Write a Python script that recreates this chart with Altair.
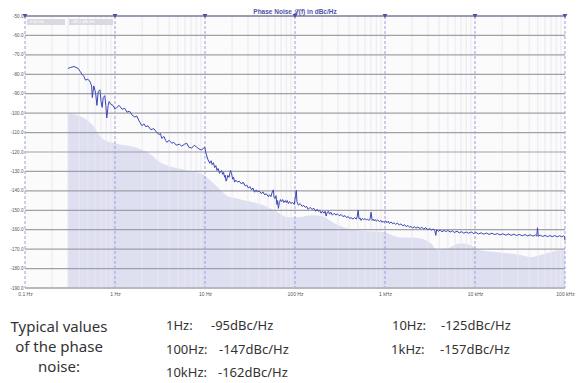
import altair as alt
import pandas as pd

# ---- data: (offset frequency Hz, phase noise dBc/Hz) ----
line_pts = [
    (0.30, -77), (0.32, -76.5), (0.35, -76), (0.37, -76.5), (0.39, -77), (0.41, -78.5), (0.43, -80),
    (0.45, -81), (0.47, -83), (0.50, -82.5), (0.53, -84), (0.55, -86), (0.56, -92), (0.58, -86),
    (0.59, -87), (0.61, -90), (0.63, -96), (0.65, -89), (0.68, -88), (0.70, -94), (0.72, -97),
    (0.74, -92), (0.77, -91), (0.79, -96), (0.81, -102.5), (0.84, -96), (0.86, -94), (0.90, -95.5),
    (0.95, -96), (1.0, -98), (1.05, -97), (1.11, -96), (1.2, -98), (1.28, -97.5), (1.36, -99.5),
    (1.45, -99), (1.55, -101), (1.66, -102), (1.75, -101.5), (1.85, -104), (1.99, -106.5),
    (2.1, -105.5), (2.2, -107), (2.32, -106.5), (2.5, -108.5), (2.7, -108), (2.92, -110),
    (3.1, -111), (3.2, -110.5), (3.31, -113), (3.5, -112), (3.65, -114), (3.76, -115), (4.0, -114),
    (4.28, -115.5), (4.5, -115), (4.8, -116.5), (5.2, -116), (5.52, -117), (5.9, -116), (6.27, -115.5),
    (6.6, -117.5), (7.12, -118), (7.6, -116.5), (8.09, -117.5), (8.6, -118.5), (9.19, -119),
    (9.6, -118), (9.92, -117.5),
    (10.3, -121), (10.8, -124), (11.3, -125.8), (11.7, -124.5), (12.0, -126.5), (12.4, -125.5),
    (12.8, -128), (13.2, -127), (13.6, -129.5), (14.0, -128.5), (14.5, -131), (14.9, -130),
    (15.3, -129.5), (15.7, -131.5), (16.1, -130.5), (16.5, -133), (16.8, -132), (17.1, -135),
    (17.4, -134.5), (17.9, -132), (18.5, -133), (19.0, -130.5), (19.2, -129.5), (19.7, -131),
    (20.3, -134), (20.8, -133), (21.3, -135.5), (22, -134.5), (23, -135.5), (24, -135),
    (25.5, -136.5), (26.5, -135.5), (28, -137.5), (29, -137), (30.4, -138.6), (31.5, -137.8),
    (33, -139.5), (34, -138.5), (35.5, -140.7), (37, -139.5), (38, -140.5), (40, -140),
    (42.4, -141.5), (44, -140.5), (46, -142), (48, -141.5), (50.7, -143), (52, -142), (54, -143),
    (55.5, -141), (57.5, -139.5), (58.5, -143.5), (60, -144), (61.5, -142.5), (63, -147), (64, -145),
    (65.4, -149), (67, -146), (69, -144.5), (70.6, -145.5), (73, -144.5), (75, -146), (78, -145),
    (80, -146), (82, -145), (84.4, -146.5), (87, -145.5), (90, -146.5), (94, -146), (98, -147),
    (101, -143), (103.5, -139.7), (105, -145.5), (109, -147.4),
    (114, -146.5), (120, -148), (125, -147.5), (130, -148.5), (135, -148), (140, -149.5),
    (147, -148.5), (155, -149.5), (162, -149), (170, -150.5), (176, -149.5), (181, -150.5),
    (188, -150), (195, -151.5), (202, -150.5), (210, -151.5), (216, -150.5), (222, -153),
    (228, -151), (235, -150.5), (242, -152), (250, -151), (260, -152.5), (273, -151.5),
    (285, -152.5), (295, -151.8), (310, -152.8), (326, -152.2), (340, -153.2), (360, -152.8),
    (375, -153.8), (390, -153.2), (405, -154.2), (420, -153.8), (440, -154.5), (460, -153.8),
    (480, -154.5), (490, -153.5), (503, -150), (515, -154.5), (530, -154), (542, -155.2),
    (560, -154.2), (580, -154.8), (600, -154.2), (620, -155), (640, -154.5), (660, -155.2),
    (680, -154.8), (700, -151), (720, -155.2), (740, -154.6), (755, -155.4), (780, -154.8),
    (800, -155.6), (830, -155), (870, -155.8), (900, -155.2), (930, -156.2), (950, -155.6),
    (975, -156.2),
    (1020, -155.4), (1050, -156.4), (1090, -155.6), (1120, -156.8), (1170, -156), (1220, -157),
    (1257, -156.4), (1310, -157.2), (1380, -156.6), (1440, -157.6), (1503, -157), (1580, -158),
    (1650, -157.4), (1720, -158.4), (1800, -157.8), (1880, -158.8), (1940, -158.2), (2030, -159.2),
    (2120, -158.4), (2200, -159.2), (2320, -158.6), (2450, -159.4), (2560, -158.8), (2700, -159.6),
    (2830, -159), (3000, -160), (3150, -159.4), (3300, -160.2), (3450, -159.6), (3580, -160.6),
    (3670, -162.9), (3750, -160), (3900, -160.8), (4100, -160.2), (4300, -161), (4550, -160.4),
    (4800, -161), (4990, -160.3), (5300, -161.2), (5600, -160.6), (5900, -161.4), (6300, -160.8),
    (6700, -161.6), (7100, -161), (7500, -161.8), (8000, -161.2), (8500, -161.8), (9100, -161.2),
    (9700, -162), (10180, -161.3), (10900, -162.2), (11700, -161.6), (12500, -162.3),
    (13400, -161.7), (14300, -162.4), (15400, -161.8), (16500, -162.5), (17800, -162),
    (19000, -162.7), (20400, -162.1), (22000, -162.8), (23500, -162.2), (25200, -162.9),
    (27000, -162.3), (29000, -163), (31000, -162.4), (33500, -163.1), (36000, -162.5),
    (38500, -163.2), (41000, -162.6), (44000, -163.3), (47000, -162.7), (48500, -163.3),
    (49500, -159), (50500, -163.4), (53000, -162.8), (56500, -163.5), (60000, -162.9),
    (64000, -163.6), (68000, -163), (72000, -163.6), (77000, -163), (82000, -163.7),
    (87000, -163.1), (92000, -163.7), (96000, -163.1), (98500, -163.5), (100000, -165.5),
]
line_freq = [p[0] for p in line_pts]
line_db = [p[1] for p in line_pts]

area_freq = [0.30, 0.43, 0.56, 0.72, 1.0, 1.66, 2.38, 3.31, 4.61, 7.12, 9.19, 10.4, 14.2, 18.3, 23.6,
             27.5, 35.5, 44.6, 59, 84.4, 109, 152, 196, 273, 352, 503, 975, 1503, 1940, 2505, 3230,
             3860, 4990, 6940, 8950, 11560, 17800, 32000, 41300, 63800, 88900, 100000]
area_db = [-100, -102, -106, -113, -115.5, -117.5, -120.6, -125.8, -128, -130, -131, -133, -138.6, -143, -144,
           -145, -146, -147.4, -150, -153.6, -153.6, -152.6, -153, -156.7, -158.8, -160.3, -161.3, -164, -164, -164.5, -167,
           -170.6, -169.6, -167, -168, -170.6, -171.6, -173, -174, -172, -170.6, -170.6]

y_ticks = [-190, -180, -170, -160, -150, -140, -130, -120, -110, -100, -90, -80, -70, -60, -50]
decades = [0.1, 1, 10, 100, 1000, 10000, 100000]
decade_labels = ["0.1 Hz", "1 Hz", "10 Hz", "100 Hz", "1 kHz", "10 kHz", "100 kHz"]
minor_lines = [d * m for d in decades[:-1] for m in range(2, 10)]

title_text = "Phase Noise \u2112(f) in dBc/Hz"
marker_texts = ["0.30 Hz", "-88.1 dBc/Hz"]

left_lines = ["Typical values", "of the phase", "noise:"]
spec_names = ["1Hz:", "100Hz:", "10kHz:", "10Hz:", "1kHz:"]
spec_values = ["-95dBc/Hz", "-147dBc/Hz", "-162dBc/Hz", "-125dBc/Hz", "-157dBc/Hz"]

# ---- layout ----
W, H = 540, 272
LEFT = 17
LINE_C = "#3b46b4"
AREA_C = "#dedff1"

xs = alt.Scale(type="log", domain=[0.1, 100000], nice=False)
ys = alt.Scale(domain=[-190, -50], nice=False, zero=False)

label_map = "{" + ",".join(f"'{v}':'{l}'" for v, l in zip(decades, decade_labels)) + "}"

X_AXIS = alt.Axis(values=decades, title=None, grid=False, ticks=False, domain=False,
                  labelExpr=f"{label_map}[datum.value + ''] || datum.label",
                  labelFontSize=5, labelColor="#555", labelFont="Liberation Sans",
                  labelPadding=3, labelFlush=False, labelOverlap=False)
Y_AXIS = alt.Axis(values=y_ticks, title=None, grid=False, ticks=False, domain=False,
                  labelExpr="replace(format(datum.value, '.1f'), '\u2212', '-')",
                  labelFontSize=4.6, labelColor="#555", labelFont="Liberation Sans",
                  labelPadding=2, labelOverlap=False, labelFlush=False)


def X(field="f"):
    return alt.X(f"{field}:Q", scale=xs, axis=X_AXIS)


def Y(field="db"):
    return alt.Y(f"{field}:Q", scale=ys, axis=Y_AXIS)


df_line = pd.DataFrame({"f": line_freq, "db": line_db})
df_area = pd.DataFrame({"f": area_freq, "db": area_db, "base": -190})
df_h = pd.DataFrame({"db": y_ticks})
df_minor = pd.DataFrame({"f": minor_lines})
df_dec = pd.DataFrame({"f": decades, "lab": decade_labels, "top": -50})
one = pd.DataFrame({"a": [0]})

bg = alt.Chart(one).mark_rect(color="#fbfbfc").encode(
    x=alt.value(0), x2=alt.value(W), y=alt.value(0), y2=alt.value(H))

area = alt.Chart(df_area).mark_area(color=AREA_C, opacity=1, interpolate="monotone").encode(
    x=X(), y=Y(), y2="base:Q")

minor = alt.Chart(df_minor).mark_rule(color="#e9e9ef", strokeWidth=1).encode(x=X())
hgrid = alt.Chart(df_h).mark_rule(color="#a0a0a8", strokeWidth=1.2).encode(y=Y())
dec = alt.Chart(df_dec).mark_rule(color="#9c9fda", strokeWidth=1, strokeDash=[3, 2]).encode(x=X())

top_line = alt.Chart(one).mark_rule(color="#6b6d8c", strokeWidth=1.2).encode(
    x=alt.value(0), x2=alt.value(W), y=alt.value(0))
bottom_line = alt.Chart(one).mark_rule(color="#b8b8bd", strokeWidth=2).encode(
    x=alt.value(0), x2=alt.value(W), y=alt.value(H))

line = alt.Chart(df_line).mark_line(color=LINE_C, strokeWidth=1).encode(x=X(), y=Y())

tri = alt.Chart(df_dec).mark_point(shape="triangle-down", filled=True, color="#4a52b0",
                                   size=24, opacity=1).encode(x=X(), y=Y("top"))

layers = [bg, area, minor, hgrid, dec, bottom_line, line, top_line, tri]

# marker readout boxes (top-left)
for t, x0, x1 in zip(marker_texts, [2, 44], [40, 88]):
    layers.append(alt.Chart(one).mark_rect(color="#d9d9df").encode(
        x=alt.value(x0), x2=alt.value(x1), y=alt.value(3), y2=alt.value(9)))
    layers.append(alt.Chart(one).mark_text(color="white", fontSize=4, align="left", baseline="middle",
                                           font="Liberation Sans", text=t).encode(
        x=alt.value(x0 + 3), y=alt.value(6)))

# title
layers.append(alt.Chart(one).mark_text(
    color="#4b53a8", fontSize=6.5, fontWeight="bold", font="Liberation Sans",
    align="center", baseline="middle", text=title_text).encode(
    x=alt.value(270), y=alt.value(-4)))

# footer text
for t, yy in zip(left_lines, [311, 331, 351]):
    layers.append(alt.Chart(one).mark_text(color="#333333", fontSize=15, font="Noto Sans",
                                           align="center", baseline="middle", text=t).encode(
        x=alt.value(34), y=alt.value(yy)))

for n, v, xn, xv, yy in zip(spec_names, spec_values,
                            [141, 141, 141, 367, 366], [186, 194, 193, 416, 415],
                            [310, 334, 357, 310, 334]):
    layers.append(alt.Chart(one).mark_text(color="#333333", fontSize=13, font="Noto Sans",
                                           align="left", baseline="middle", text=n).encode(
        x=alt.value(xn), y=alt.value(yy)))
    layers.append(alt.Chart(one).mark_text(color="#333333", fontSize=13, font="Noto Sans",
                                           align="left", baseline="middle", text=v).encode(
        x=alt.value(xv), y=alt.value(yy)))

chart = alt.layer(*layers).properties(
    width=W, height=H,
    autosize=alt.AutoSizeParams(type="none"),
    padding={"left": LEFT, "top": 8, "right": 10, "bottom": 96},
).configure_view(stroke=None)

chart.save("out.html", embed_options={"renderer": "svg", "actions": False})
